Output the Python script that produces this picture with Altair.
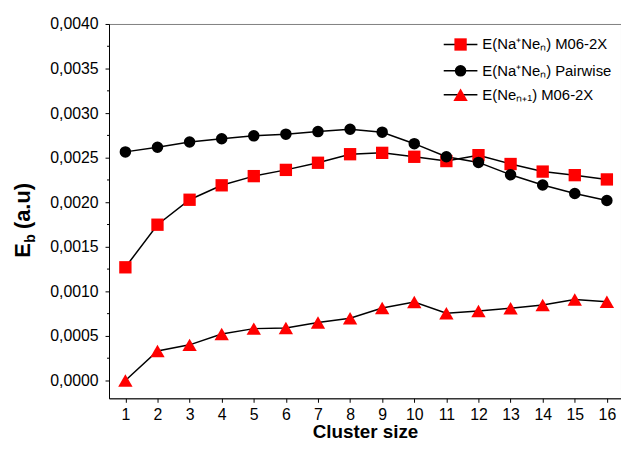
import altair as alt
import pandas as pd

cluster = list(range(1, 17))
m06_nane = [0.00127, 0.001748, 0.002028, 0.00219, 0.002293, 0.002363, 0.002443, 0.002539,
            0.002554, 0.00251, 0.002462, 0.002528, 0.002429, 0.002344, 0.002304, 0.002256]
pair_nane = [0.002565, 0.002617, 0.002676, 0.002712, 0.002745, 0.002764, 0.002793, 0.002819,
             0.002786, 0.002657, 0.00251, 0.002447, 0.002308, 0.002193, 0.002098, 0.00202]
m06_ne = [0.0, 0.000331, 0.0004, 0.000522, 0.000582, 0.000589, 0.000651, 0.000699,
          0.000814, 0.00088, 0.000754, 0.00078, 0.00081, 0.000847, 0.000909, 0.000883]

series_names = ["E(Na\u207aNe\u2099) M06-2X", "E(Na\u207aNe\u2099) Pairwise", "E(Ne\u2099\u208a\u2081) M06-2X"]
y_major = [0.0005 * i for i in range(9)]
y_minor = [0.00025 + 0.0005 * i for i in range(8)]

rows = []
for name, vals in zip(series_names, [m06_nane, pair_nane, m06_ne]):
    for c, v in zip(cluster, vals):
        rows.append({"n": c, "E": v, "series": name})
df = pd.DataFrame(rows)

FONT = "Liberation Sans"
xs = alt.Scale(domain=[0.49, 16.44], nice=False, zero=False)
ys = alt.Scale(domain=[-0.0002, 0.004], nice=False, zero=False)

xaxis = alt.Axis(values=cluster, title="Cluster size", format="d", grid=False,
                 labelFontSize=16, labelFont=FONT, labelColor="black", labelOverlap=False,
                 titleFontSize=19, titleFont=FONT, titleFontWeight="bold", titleColor="black",
                 titlePadding=1, tickSize=4, tickColor="black", domainColor="black",
                 labelPadding=4, labelFlush=False)
yaxis = alt.Axis(values=y_major, title=None, grid=False,
                 labelExpr="replace(format(datum.value, '.4f'), '.', ',')",
                 labelFontSize=16, labelFont=FONT, labelColor="black", labelOverlap=False,
                 tickSize=4, tickColor="black", domainColor="black", labelPadding=7)
X = alt.X("n:Q", scale=xs, axis=xaxis)
Y = alt.Y("E:Q", scale=ys, axis=yaxis)

base = alt.Chart(df)
lines = base.mark_line(color="black", strokeWidth=1.5).encode(x=X, y=Y, detail="series:N")

sq = base.transform_filter(alt.datum.series == series_names[0]).mark_point(
    shape="square", filled=True, color="#ff0000", size=155, opacity=1).encode(x=X, y=Y)
tri = base.transform_filter(alt.datum.series == series_names[2]).mark_point(
    shape="triangle-up", filled=True, color="#ff0000", size=210, opacity=1).encode(x=X, y=Y)
cir = base.transform_filter(alt.datum.series == series_names[1]).mark_point(
    shape="circle", filled=True, color="black", size=135, opacity=1).encode(x=X, y=Y)

minor = alt.Chart(pd.DataFrame({"v": y_minor})).mark_rule(color="black", strokeWidth=1).encode(
    x=alt.value(-2), x2=alt.value(0), y=alt.Y("v:Q", scale=ys, axis=yaxis))

# custom legend
leg = pd.DataFrame({
    "label": series_names,
    "ly": [20.7, 47.3, 71.5],
    "shape": ["square", "circle", "triangle-up"],
    "col": ["#ff0000", "black", "#ff0000"],
    "sz": [155, 135, 210],
})
leg_line = alt.Chart(leg).mark_rule(color="black", strokeWidth=1.5).encode(
    x=alt.value(338), x2=alt.value(372), y=alt.Y("ly:Q", scale=None))
leg_pts = alt.Chart(leg).mark_point(filled=True, opacity=1).encode(
    x=alt.value(355), y=alt.Y("ly:Q", scale=None),
    shape=alt.Shape("shape:N", scale=None),
    color=alt.Color("col:N", scale=None),
    size=alt.Size("sz:Q", scale=None))
leg_txt = alt.Chart(leg).mark_text(align="left", baseline="middle", fontSize=15, font=FONT,
                                   color="black").encode(
    x=alt.value(377), y=alt.Y("ly:Q", scale=None), text="label:N")

# y title with subscript
t_df = pd.DataFrame({"t": ["E", "b", "(a.u)"], "tx": [-80, -75, -80], "ty": [236, 221, 207],
                     "fs": [22, 14, 22]})
ytitle = alt.Chart(t_df).mark_text(angle=270, align="left", baseline="alphabetic", font=FONT,
                                   fontWeight="bold", color="black").encode(
    x=alt.X("tx:Q", scale=None), y=alt.Y("ty:Q", scale=None), text="t:N",
    size=alt.Size("fs:Q", scale=None))

chart = alt.layer(lines, minor, sq, tri, cir, leg_line, leg_pts, leg_txt, ytitle).properties(
    width=517, height=378,
    autosize=alt.AutoSizeParams(type="none"),
    padding={"left": 102, "top": 14, "right": 0, "bottom": 46},
).configure_view(stroke="#808080", strokeWidth=1).configure_axis(domainWidth=1).configure_axisX(
    labelOverlap=False)

chart.save("out.html", embed_options={"renderer": "svg", "actions": False})
